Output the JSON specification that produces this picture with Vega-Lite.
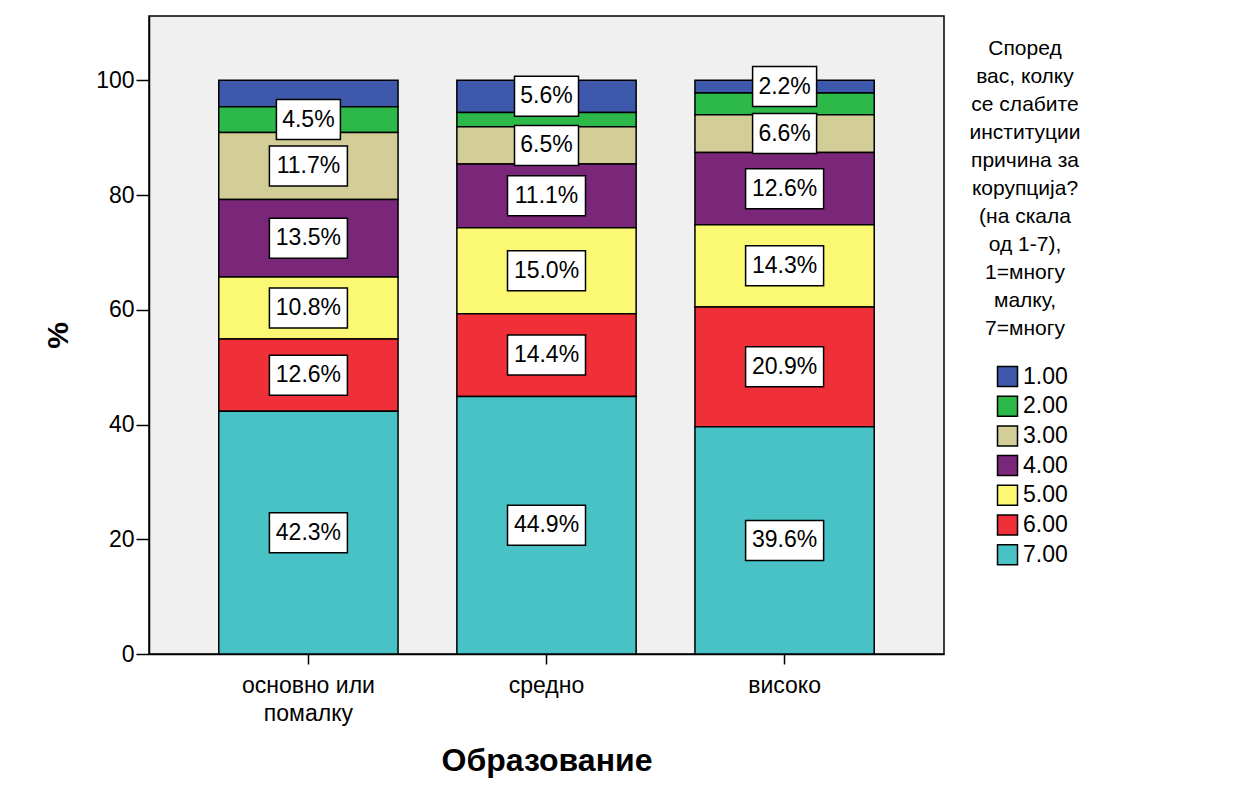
{
  "$schema": "https://vega.github.io/schema/vega-lite/v6.json",
  "width": 795,
  "height": 638,
  "autosize": {"type": "none"},
  "padding": {"left": 149, "top": 16, "right": 302, "bottom": 142},
  "background": "white",
  "config": {
    "font": "Liberation Sans",
    "view": {"fill": "#F0F0F0", "stroke": "#000", "strokeWidth": 1.5},
    "axisY": {
      "tickSize": 13, "tickColor": "#000", "tickWidth": 1.5,
      "domainColor": "#000", "domainWidth": 1.5,
      "labelFontSize": 23, "labelColor": "#000", "labelPadding": 2,
      "grid": false,
      "titleFontSize": 30, "titleFontWeight": "bold", "titleColor": "#000", "titlePadding": 22
    },
    "axisX": {
      "labelAngle": 0, "tickSize": 10, "tickColor": "#000", "tickWidth": 1.5,
      "domainColor": "#000", "domainWidth": 1.5,
      "labelFontSize": 23, "labelColor": "#000", "labelPadding": 10, "labelLineHeight": 28,
      "titleFontSize": 32, "titleFontWeight": "bold", "titleColor": "#000", "titlePadding": 20
    }
  },
  "data": {
    "values": [
      {"edu": "основно или помалку", "level": "1.00", "pct": 4.6, "label": ""},
      {"edu": "основно или помалку", "level": "2.00", "pct": 4.5, "label": "4.5%"},
      {"edu": "основно или помалку", "level": "3.00", "pct": 11.7, "label": "11.7%"},
      {"edu": "основно или помалку", "level": "4.00", "pct": 13.5, "label": "13.5%"},
      {"edu": "основно или помалку", "level": "5.00", "pct": 10.8, "label": "10.8%"},
      {"edu": "основно или помалку", "level": "6.00", "pct": 12.6, "label": "12.6%"},
      {"edu": "основно или помалку", "level": "7.00", "pct": 42.3, "label": "42.3%"},
      {"edu": "средно", "level": "1.00", "pct": 5.6, "label": "5.6%"},
      {"edu": "средно", "level": "2.00", "pct": 2.5, "label": ""},
      {"edu": "средно", "level": "3.00", "pct": 6.5, "label": "6.5%"},
      {"edu": "средно", "level": "4.00", "pct": 11.1, "label": "11.1%"},
      {"edu": "средно", "level": "5.00", "pct": 15.0, "label": "15.0%"},
      {"edu": "средно", "level": "6.00", "pct": 14.4, "label": "14.4%"},
      {"edu": "средно", "level": "7.00", "pct": 44.9, "label": "44.9%"},
      {"edu": "високо", "level": "1.00", "pct": 2.2, "label": "2.2%"},
      {"edu": "високо", "level": "2.00", "pct": 3.8, "label": ""},
      {"edu": "високо", "level": "3.00", "pct": 6.6, "label": "6.6%"},
      {"edu": "високо", "level": "4.00", "pct": 12.6, "label": "12.6%"},
      {"edu": "високо", "level": "5.00", "pct": 14.3, "label": "14.3%"},
      {"edu": "високо", "level": "6.00", "pct": 20.9, "label": "20.9%"},
      {"edu": "високо", "level": "7.00", "pct": 39.6, "label": "39.6%"}
    ]
  },
  "transform": [
    {"stack": "pct", "groupby": ["edu"], "sort": [{"field": "level", "order": "descending"}], "as": ["y0", "y1"]},
    {"calculate": "(datum.y0 + datum.y1) / 2", "as": "ymid"}
  ],
  "encoding": {
    "x": {
      "field": "edu", "type": "nominal",
      "sort": ["основно или помалку", "средно", "високо"],
      "scale": {"paddingInner": 0.247, "paddingOuter": 0.293},
      "title": "Образование",
      "axis": {"labelExpr": "datum.label == 'основно или помалку' ? ['основно или', 'помалку'] : datum.label"}
    }
  },
  "layer": [
    {
      "mark": {"type": "bar", "stroke": "#000", "strokeWidth": 1.5, "opacity": 1},
      "encoding": {
        "y": {
          "field": "y0", "type": "quantitative", "title": "%",
          "scale": {"domain": [0, 111.2], "nice": false, "zero": true},
          "axis": {"values": [0, 20, 40, 60, 80, 100]}
        },
        "y2": {"field": "y1"},
        "color": {
          "field": "level", "type": "nominal",
          "scale": {
            "domain": ["1.00", "2.00", "3.00", "4.00", "5.00", "6.00", "7.00"],
            "range": ["#3E58AC", "#2DB84A", "#D3CE97", "#7B2779", "#FBF873", "#EF3038", "#48C2C5"]
          },
          "legend": {
            "title": ["Според", "вас, колку", "се слабите", "институции", "причина за", "корупција?", "(на скала", "од 1-7),", "1=многу", "малку,", "7=многу"],
            "orient": "none", "legendX": 820, "legendY": 22,
            "titleAlign": "center", "titleAnchor": "middle",
            "titleFontSize": 21, "titleFontWeight": "normal", "titleLineHeight": 28,
            "titleLimit": 400, "titleColor": "#000", "titlePadding": 26,
            "labelFontSize": 23, "labelColor": "#000", "labelOffset": 4,
            "symbolType": "square", "symbolSize": 400, "symbolStrokeColor": "#000",
            "symbolStrokeWidth": 1.5, "symbolOpacity": 1, "symbolOffset": 14,
            "rowPadding": 2.7
          }
        }
      }
    },
    {
      "transform": [{"filter": "datum.label != ''"}],
      "mark": {"type": "point", "filled": true, "fill": "white", "stroke": "#000", "strokeWidth": 1.5, "opacity": 1, "size": 10000},
      "encoding": {
        "y": {"field": "ymid", "type": "quantitative", "title": "%"},
        "shape": {
          "condition": {"test": "length(datum.label) < 5", "value": "M-0.64,-0.4H0.64V0.4H-0.64Z"},
          "value": "M-0.78,-0.4H0.78V0.4H-0.78Z"
        }
      }
    },
    {
      "transform": [{"filter": "datum.label != ''"}],
      "mark": {"type": "text", "fontSize": 23, "color": "#000", "baseline": "middle", "align": "center"},
      "encoding": {
        "y": {"field": "ymid", "type": "quantitative", "title": "%"},
        "text": {"field": "label"}
      }
    }
  ]
}
